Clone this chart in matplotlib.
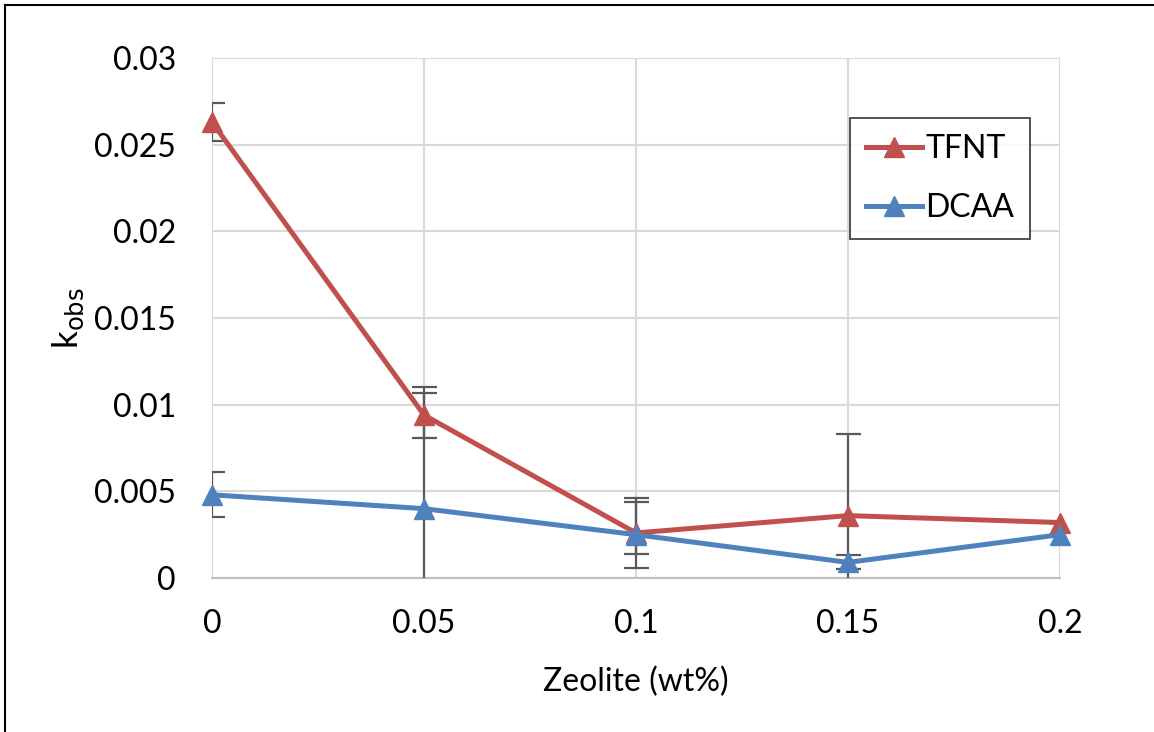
import matplotlib
matplotlib.use("Agg")
import matplotlib.pyplot as plt
from matplotlib.lines import Line2D

# Données
zeolite = [0, 0.05, 0.1, 0.15, 0.2]
tfnt = [0.0263, 0.0094, 0.0026, 0.0036, 0.0032]
tfnt_err_low = [0.0011, 0.0013, 0.0020, 0.0047, 0]
tfnt_err_high = [0.0011, 0.0013, 0.0020, 0.0047, 0]
dcaa = [0.0048, 0.0040, 0.0025, 0.0009, 0.0025]
dcaa_err_low = [0.0013, 0.0070, 0.0011, 0.0004, 0]
dcaa_err_high = [0.0013, 0.0070, 0.0019, 0.0004, 0]

x_ticks = [0, 0.05, 0.1, 0.15, 0.2]
x_labels = ["0", "0.05", "0.1", "0.15", "0.2"]
y_ticks = [0, 0.005, 0.01, 0.015, 0.02, 0.025, 0.03]
y_labels = ["0", "0.005", "0.01", "0.015", "0.02", "0.025", "0.03"]

rouge = "#C0504D"
bleu = "#4F81BD"

plt.rcParams['font.family'] = ['Lato', 'DejaVu Sans']

fig = plt.figure(figsize=(11.54, 7.32), dpi=100)
ax = fig.add_axes([212 / 1154, 1 - 578 / 732, 848 / 1154, 520 / 732])

# Barres d'erreur (coupées par la zone du graphique)
ax.errorbar(zeolite, tfnt, yerr=[tfnt_err_low, tfnt_err_high], fmt='none',
            ecolor="#595959", elinewidth=1.6, capsize=9, capthick=1.6, zorder=3)
ax.errorbar(zeolite, dcaa, yerr=[dcaa_err_low, dcaa_err_high], fmt='none',
            ecolor="#595959", elinewidth=1.6, capsize=9, capthick=1.6, zorder=3)

ax.plot(zeolite, tfnt, color=rouge, lw=3.6, marker='^', ms=15, label="TFNT",
        clip_on=False, zorder=4)
ax.plot(zeolite, dcaa, color=bleu, lw=3.6, marker='^', ms=15, label="DCAA",
        clip_on=False, zorder=5)

ax.set_xlim(0, 0.2)
ax.set_ylim(0, 0.03)
ax.set_xticks(x_ticks)
ax.set_xticklabels(x_labels)
ax.set_yticks(y_ticks)
ax.set_yticklabels(y_labels)
ax.tick_params(length=0, labelsize=23)
ax.tick_params(axis='x', pad=22)
ax.tick_params(axis='y', pad=26)
ax.grid(True, color="#D9D9D9", lw=1.5)
ax.set_axisbelow(True)
for s in ['top', 'right', 'left']:
    ax.spines[s].set_visible(False)
ax.spines['bottom'].set_color("#BFBFBF")
ax.spines['bottom'].set_linewidth(1.5)

ax.set_xlabel("Zeolite (wt%)", fontsize=23, labelpad=20)
ax.set_ylabel(r"k$_{\mathrm{obs}}$", fontsize=25, labelpad=6)

leg = ax.legend(loc='upper right', bbox_to_anchor=(1.0 - 30 / 848, 1 - 60 / 520),
                borderaxespad=0, fontsize=23, frameon=True, fancybox=False,
                handlelength=1.75, labelspacing=0.9, borderpad=0.5, handletextpad=0.1)
leg.get_frame().set_edgecolor("black")
leg.get_frame().set_linewidth(1.2)

# Cadre autour de la figure
fig.add_artist(Line2D([5 / 1154, 1.0], [1 - 5 / 732, 1 - 5 / 732], color="black", lw=1.5,
                      transform=fig.transFigure))
fig.add_artist(Line2D([5 / 1154, 5 / 1154], [0, 1 - 5 / 732], color="black", lw=1.5,
                      transform=fig.transFigure))

fig.savefig("out.png", dpi=100)
